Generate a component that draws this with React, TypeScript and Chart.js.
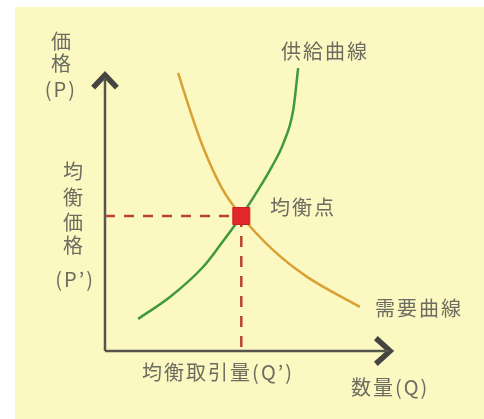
import React, { useEffect, useRef } from "react";
import { Chart, registerables } from "chart.js";

Chart.register(...registerables);

// Supply curve (quantity, price) in chart units
const supplyQ = [11.4, 22.4, 33.8, 39.7, 47.0, 52.8, 57.5, 61.5, 64.9, 66.6];
const supplyP = [10.7, 18.0, 28.0, 35.3, 45.0, 53.7, 61.4, 69.2, 80.3, 94.3];

// Demand curve
const demandQ = [25.2, 29.3, 33.8, 40.3, 47.0, 57.9, 69.7, 87.9];
const demandP = [92.7, 80.3, 68.0, 54.3, 45.0, 33.7, 24.7, 14.7];

// Equilibrium
const eqQ = 47;
const eqP = 45;

// Axis extents
const axisXEnd = 98;
const axisYEnd = 91;

// Labels: [text, x, y, align]
const hLabels: [string, number, number, CanvasTextAlign][] = [
  ["供給曲線", 75.9, 100, "center"],
  ["需要曲線", 108.3, 14.3, "center"],
  ["均衡点", 56.9, 47.7, "left"],
  ["均衡取引量(Q’)", 12.8, -7, "left"],
  ["数量(Q)", 98.3, -12, "center"],
  ["(P)", -15.2, 87.3, "center"],
  ["(P’)", -10.3, 23.7, "center"],
];
// vertical labels: chars with their y positions
const priceChars = ["価", "格"];
const priceCharY = [103.3, 95.7];
const priceX = -15.2;
const eqPriceChars = ["均", "衡", "価", "格"];
const eqPriceCharY = [59.7, 51.3, 43, 35.3];
const eqPriceX = -11;

const pts = (xs: number[], ys: number[]) => xs.map((x, i) => ({ x, y: ys[i] }));

export default function App() {
  const ref = useRef<HTMLCanvasElement | null>(null);
  useEffect(() => {
    if (!ref.current) return;
    const textColor = "#6c6c60";
    const font = '20px "Noto Sans CJK JP", "Noto Sans", sans-serif';
    const bgPlugin = {
      id: "bg",
      beforeDraw(chart: any) {
        const ctx = chart.ctx;
        ctx.save();
        ctx.fillStyle = "#ffffff";
        ctx.fillRect(0, 0, chart.width, chart.height);
        ctx.fillStyle = "#fcf8c2";
        ctx.fillRect(15, 7, chart.width - 15, chart.height - 7);
        ctx.restore();
      },
    };
    const textPlugin = {
      id: "texts",
      afterDraw(chart: any) {
        const ctx = chart.ctx;
        const xs = chart.scales.x;
        const ys = chart.scales.y;
        ctx.save();
        ctx.fillStyle = textColor;
        ctx.font = font;
        ctx.textBaseline = "middle";
        try {
          (ctx as any).letterSpacing = "2px";
        } catch (e) {}
        for (const [t, x, y, a] of hLabels) {
          ctx.textAlign = a;
          ctx.fillText(t, xs.getPixelForValue(x), ys.getPixelForValue(y));
        }
        ctx.textAlign = "center";
        try {
          (ctx as any).letterSpacing = "0px";
        } catch (e) {}
        priceChars.forEach((c, i) =>
          ctx.fillText(c, xs.getPixelForValue(priceX), ys.getPixelForValue(priceCharY[i]))
        );
        eqPriceChars.forEach((c, i) =>
          ctx.fillText(c, xs.getPixelForValue(eqPriceX), ys.getPixelForValue(eqPriceCharY[i]))
        );
        ctx.restore();
      },
    };

    const chart = new Chart(ref.current, {
      type: "scatter",
      data: {
        datasets: [
          {
            label: "均衡点",
            data: [{ x: eqQ, y: eqP }],
            pointStyle: "rect",
            pointRadius: 12,
            backgroundColor: "#e2272b",
            borderColor: "#c91f1f",
            borderWidth: 1,
            showLine: false,
            clip: false,
          } as any,
          {
            label: "供給曲線",
            data: pts(supplyQ, supplyP),
            showLine: true,
            borderColor: "#3f9a3a",
            borderWidth: 2.5,
            pointRadius: 0,
            cubicInterpolationMode: "monotone",
            clip: false,
          },
          {
            label: "需要曲線",
            data: pts(demandQ, demandP),
            showLine: true,
            borderColor: "#d9a133",
            borderWidth: 2.5,
            pointRadius: 0,
            cubicInterpolationMode: "monotone",
            clip: false,
          },
          {
            label: "価格線",
            data: [
              { x: 0, y: eqP },
              { x: eqQ, y: eqP },
            ],
            showLine: true,
            borderColor: "#b8462e",
            borderWidth: 2.5,
            borderDash: [10, 9],
            pointRadius: 0,
            clip: false,
          },
          {
            label: "数量線",
            data: [
              { x: eqQ, y: eqP },
              { x: eqQ, y: 0 },
            ],
            showLine: true,
            borderColor: "#b8462e",
            borderWidth: 2.5,
            borderDash: [11, 9],
            pointRadius: 0,
            clip: false,
          },
          {
            label: "x軸",
            data: [
              { x: 0, y: 0 },
              { x: axisXEnd, y: 0 },
            ],
            showLine: true,
            borderColor: "#56564c",
            borderWidth: 2.5,
            pointRadius: 0,
            clip: false,
          },
          {
            label: "y軸",
            data: [
              { x: 0, y: 0 },
              { x: 0, y: axisYEnd },
            ],
            showLine: true,
            borderColor: "#56564c",
            borderWidth: 2.5,
            pointRadius: 0,
            clip: false,
          },
          {
            label: "x矢印",
            data: [
              { x: 93.4, y: 4.3 },
              { x: 98.3, y: 0 },
              { x: 93.4, y: -4.3 },
            ],
            showLine: true,
            borderColor: "#444440",
            borderWidth: 5.5,
            borderJoinStyle: "miter",
            pointRadius: 0,
            clip: false,
          },
          {
            label: "y矢印",
            data: [
              { x: -4.1, y: 87.8 },
              { x: 0, y: 92 },
              { x: 4.1, y: 87.8 },
            ],
            showLine: true,
            borderColor: "#444440",
            borderWidth: 5.5,
            borderJoinStyle: "miter",
            pointRadius: 0,
            clip: false,
          },
        ],
      },
      options: {
        responsive: false,
        animation: false,
        devicePixelRatio: 1,
        layout: { padding: { left: 105, right: 89, top: 51, bottom: 68 } },
        plugins: {
          legend: { display: false },
          tooltip: { enabled: false },
          title: { display: false },
        },
        scales: {
          x: { type: "linear", min: 0, max: 100, display: false },
          y: { type: "linear", min: 0, max: 100, display: false },
        },
      },
      plugins: [bgPlugin, textPlugin],
    });
    return () => chart.destroy();
  }, []);
  return (
    <div style={{ position: "absolute", left: 0, top: 0, width: 484, height: 419, background: "#fff" }}>
      <canvas ref={ref} width={484} height={419} style={{ width: 484, height: 419, display: "block" }} />
    </div>
  );
}
